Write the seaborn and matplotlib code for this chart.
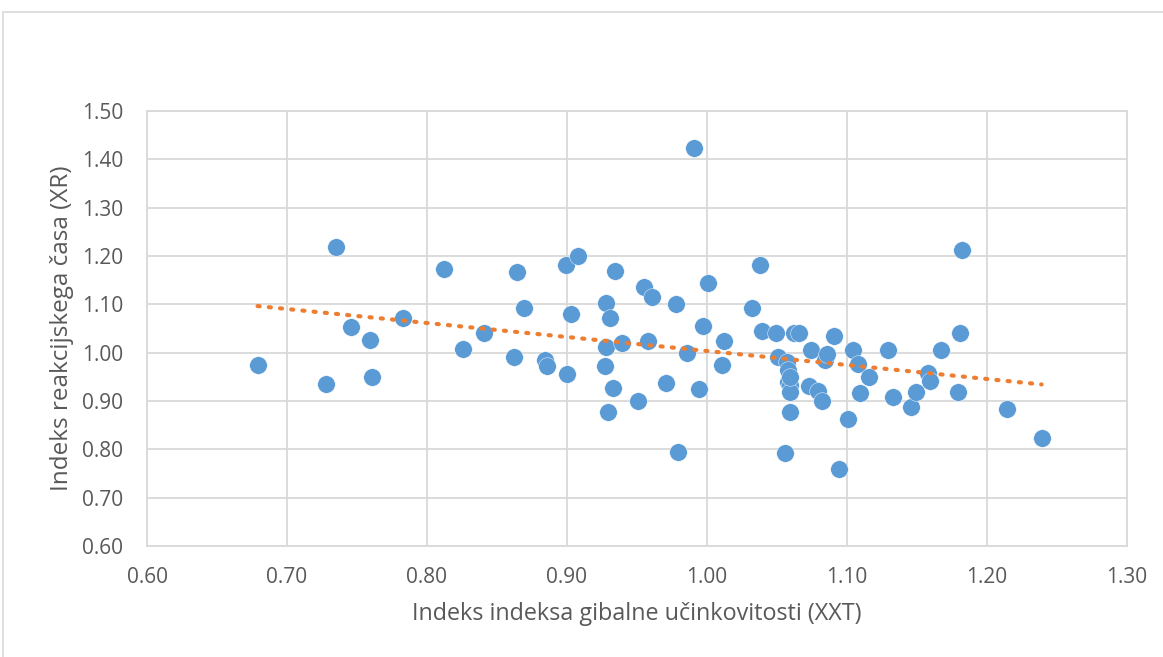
import matplotlib
matplotlib.use('Agg')
from matplotlib import pyplot as plt
from matplotlib.patches import Rectangle
import seaborn as sns
import pandas as pd

####### DATA #######
xxt = [0.679, 0.728, 0.735, 0.746, 0.759, 0.761, 0.783, 0.812, 0.826, 0.841,
       0.862, 0.864, 0.869, 0.884, 0.886, 0.899, 0.900, 0.903, 0.908, 0.927,
       0.928, 0.928, 0.929, 0.931, 0.933, 0.934, 0.939, 0.951, 0.955, 0.958,
       0.961, 0.971, 0.978, 0.979, 0.986, 0.991, 0.994, 0.997, 1.001, 1.011,
       1.012, 1.032, 1.038, 1.039, 1.049, 1.051, 1.056, 1.057, 1.058, 1.058,
       1.059, 1.059, 1.059, 1.059, 1.062, 1.066, 1.073, 1.074, 1.079, 1.082,
       1.084, 1.086, 1.091, 1.094, 1.101, 1.104, 1.108, 1.109, 1.116, 1.129,
       1.133, 1.146, 1.149, 1.158, 1.159, 1.167, 1.179, 1.181, 1.182, 1.214,
       1.239]
xr = [0.974, 0.935, 1.219, 1.054, 1.026, 0.950, 1.072, 1.173, 1.007, 1.041,
      0.991, 1.167, 1.092, 0.985, 0.972, 1.182, 0.956, 1.080, 1.201, 0.972,
      1.103, 1.012, 0.877, 1.072, 0.927, 1.169, 1.020, 0.900, 1.136, 1.024,
      1.115, 0.937, 1.101, 0.794, 0.999, 1.423, 0.925, 1.056, 1.144, 0.975,
      1.024, 1.092, 1.181, 1.045, 1.041, 0.991, 0.792, 0.981, 0.964, 0.939,
      0.933, 0.919, 0.877, 0.950, 1.041, 1.041, 0.931, 1.005, 0.921, 0.900,
      0.985, 0.997, 1.035, 0.759, 0.863, 1.005, 0.977, 0.917, 0.950, 1.005,
      0.908, 0.888, 0.919, 0.958, 0.941, 1.005, 0.919, 1.041, 1.212, 0.883,
      0.823]
x_ticks = [0.60, 0.70, 0.80, 0.90, 1.00, 1.10, 1.20, 1.30]
y_ticks = [0.60, 0.70, 0.80, 0.90, 1.00, 1.10, 1.20, 1.30, 1.40, 1.50]
x_title = 'Indeks indeksa gibalne učinkovitosti (XXT)'
y_title = 'Indeks reakcijskega časa (XR)'
##### END DATA #####

df = pd.DataFrame({'XXT': xxt, 'XR': xr})

sns.set_style('white')
plt.rcParams['font.family'] = ['Open Sans', 'DejaVu Sans']

fig = plt.figure(figsize=(11.63, 6.57), dpi=100)
ax = fig.add_axes([147 / 1163, 1 - 546 / 657, 980 / 1163, 435 / 657])

# outer chart border like the excel chart area
fig.patches.append(Rectangle((3 / 1163, -0.01), 1.2, 1 - 12 / 657 + 0.01,
                             transform=fig.transFigure, fill=False,
                             edgecolor='#d9d9d9', linewidth=1.2))

sns.scatterplot(data=df, x='XXT', y='XR', ax=ax, color='#5B9BD5', s=160,
                edgecolor='white', linewidth=0.3, zorder=3)
sns.regplot(data=df, x='XXT', y='XR', ax=ax, scatter=False, ci=None,
            line_kws={'color': '#ED7D31', 'linewidth': 3,
                      'linestyle': (0, (0.5, 2.2)), 'dash_capstyle': 'round',
                      'zorder': 4})

ax.set_xlim(0.6, 1.3)
ax.set_ylim(0.6, 1.5)
ax.set_xticks(x_ticks)
ax.set_yticks(y_ticks)
ax.set_xticklabels([f'{v:.2f}' for v in x_ticks])
ax.set_yticklabels([f'{v:.2f}' for v in y_ticks])
ax.grid(True, color='#d9d9d9', linewidth=1.3)
ax.set_axisbelow(True)
for s in ax.spines.values():
    s.set_color('#d9d9d9')
    s.set_linewidth(1.3)
ax.tick_params(axis='both', length=0, labelsize=15, colors='#595959')
ax.tick_params(axis='x', pad=15)
ax.tick_params(axis='y', pad=17)
ax.set_xlabel(x_title, fontsize=16.8, color='#595959', labelpad=10)
ax.set_ylabel(y_title, fontsize=17.5, color='#595959', labelpad=6)

fig.savefig('out.png', dpi=100)
